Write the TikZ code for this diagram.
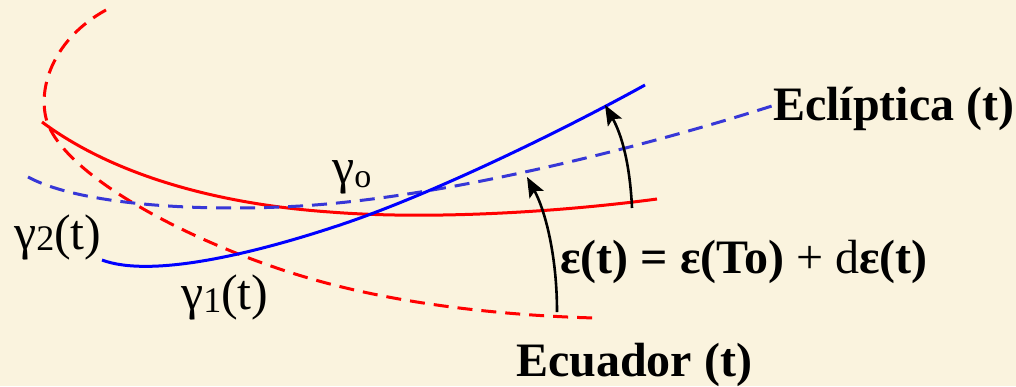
\documentclass[tikz,border=0pt]{standalone}
\usepackage{fontspec}
\setmainfont{LiberationSerif}[Extension=.ttf, UprightFont=*-Regular, BoldFont=*-Bold, ItalicFont=*-Italic, BoldItalicFont=*-BoldItalic]
\usetikzlibrary{arrows.meta}
\definecolor{bg}{RGB}{250,243,222}
\definecolor{ecred}{RGB}{255,0,0}
\definecolor{ecblue}{RGB}{0,0,255}
\definecolor{dblue}{RGB}{55,55,215}
\tikzset{
  curve/.style={line width=3pt, line cap=butt},
  dashcurve/.style={curve, dash pattern=on 15pt off 9pt},
  bigtxt/.style={font=\fontsize{48}{48}\selectfont\bfseries, anchor=base west, inner sep=0pt},
  gtxt/.style={font=\fontsize{50}{50}\selectfont, anchor=base west, inner sep=0pt},
  angarrow/.style={line width=2.6pt, -{Stealth[length=20pt,width=16pt,inset=4pt]}}
}
\begin{document}
\begin{tikzpicture}[x=1pt,y=-1pt]
\useasboundingbox (0,0) rectangle (1016,386);
\fill[bg] (0,0) rectangle (1016,386);
% red dashed (Ecuador old)
\draw[dashcurve, ecred] (106,10) .. controls (55,38) and (38,85) .. (46,118)
  .. controls (60,175) and (200,250) .. (330,284)
  .. controls (420,307.5) and (520,316) .. (595,318);
% red solid (Ecuador t)
\draw[curve, ecred] (42,122) .. controls (120,180) and (230,205) .. (330,212)
  .. controls (430,220) and (560,212) .. (657,199);
% blue dashed
\draw[dashcurve, dblue] (28,177) .. controls (80,205) and (200,212) .. (300,206)
  .. controls (450,197) and (650,145) .. (775,105);
% blue solid
\draw[curve, ecblue] (102,260) .. controls (150,278) and (250,255) .. (340,225)
  .. controls (430,195) and (560,132) .. (645,85);
% arrows
\coordinate (a1s) at (557,312);
\coordinate (a1e) at (527,177);
\coordinate (a2s) at (632,208);
\coordinate (a2e) at (605,105);
\draw[angarrow] (a1s) .. controls (557,255) and (545,210) .. (a1e);
\draw[angarrow] (a2s) .. controls (630,165) and (622,135) .. (a2e);
% labels
\node[bigtxt] (eclip) at (773,120) {Eclíptica (t)};
\node[bigtxt] (eq) at (560,273) {ε(t) = ε(To) {\mdseries + d}ε(t)};
\node[bigtxt] (ecua) at (516,376) {Ecuador (t)};
\node[gtxt] (g2) at (14,249) {γ\raisebox{-1pt}{\fontsize{36}{36}\selectfont 2}(t)};
\node[gtxt] (g1) at (181,309) {γ\raisebox{-3pt}{\fontsize{36}{36}\selectfont 1}(t)};
\node[gtxt] (g0) at (332,183) {γ\raisebox{-4pt}{\fontsize{34}{34}\selectfont o}};
\end{tikzpicture}
\end{document}
